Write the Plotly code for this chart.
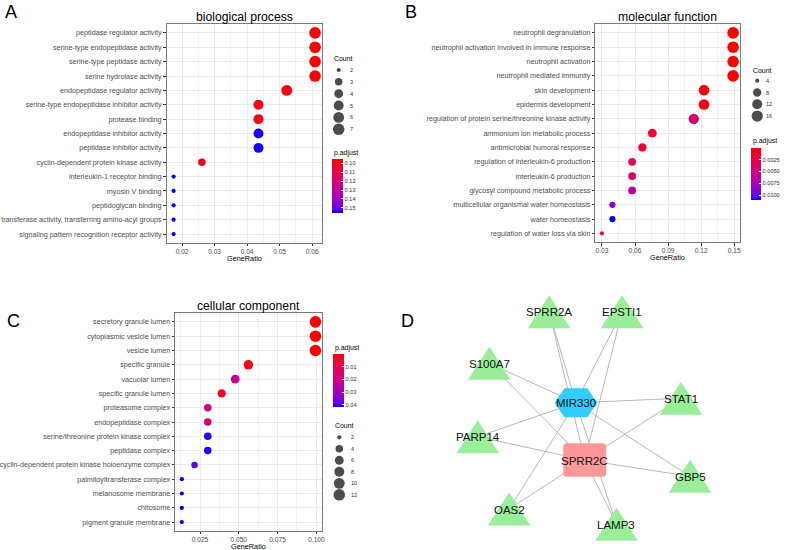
import math
import plotly.graph_objects as go

W, H = 785, 550
FONT = "Liberation Sans, Arial, sans-serif"

# ---------------- data: panel A ----------------
a_title = "biological process"
a_terms = [
    "peptidase regulator activity",
    "serine-type endopeptidase activity",
    "serine-type peptidase activity",
    "serine hydrolase activity",
    "endopeptidase regulator activity",
    "serine-type endopeptidase inhibitor activity",
    "protease binding",
    "endopeptidase inhibitor activity",
    "peptidase inhibitor activity",
    "cyclin-dependent protein kinase activity",
    "interleukin-1 receptor binding",
    "myosin V binding",
    "peptidoglycan binding",
    "transferase activity, transferring amino-acyl groups",
    "signaling pattern recognition receptor activity",
]
a_ratio = [0.0609, 0.0609, 0.0609, 0.0609, 0.0522, 0.0435, 0.0435, 0.0435, 0.0435,
           0.0261, 0.0174, 0.0174, 0.0174, 0.0174, 0.0174]
a_count = [7, 7, 7, 7, 6, 5, 5, 5, 5, 3, 2, 2, 2, 2, 2]
a_padj = [0.0955, 0.0957, 0.0958, 0.0960, 0.0985, 0.0990, 0.0992, 0.1545, 0.1545,
          0.0995, 0.1556, 0.1556, 0.1556, 0.1556, 0.1556]
a_count_breaks = [2, 3, 4, 5, 6, 7]
a_padj_ticks = [0.10, 0.11, 0.12, 0.13, 0.14, 0.15]
a_padj_labels = ["0.10", "0.11", "0.12", "0.13", "0.14", "0.15"]
a_xticks = [0.02, 0.03, 0.04, 0.05, 0.06]
a_xlabels = ["0.02", "0.03", "0.04", "0.05", "0.06"]

# ---------------- data: panel B ----------------
b_title = "molecular function"
b_terms = [
    "neutrophil degranulation",
    "neutrophil activation involved in immune response",
    "neutrophil activation",
    "neutrophil mediated immunity",
    "skin development",
    "epidermis development",
    "regulation of protein serine/threonine kinase activity",
    "ammonium ion metabolic process",
    "antimicrobial humoral response",
    "regulation of interleukin-6 production",
    "interleukin-6 production",
    "glycosyl compound metabolic process",
    "multicellular organismal water homeostasis",
    "water homeostasis",
    "regulation of water loss via skin",
]
b_ratio = [0.149, 0.149, 0.149, 0.149, 0.1226, 0.1226, 0.1133, 0.0757, 0.0667,
           0.0574, 0.0574, 0.0574, 0.0395, 0.0395, 0.0300]
b_count = [17, 17, 17, 17, 14, 14, 13, 9, 8, 7, 7, 7, 5, 5, 4]
b_padj = [0.00002, 0.00002, 0.00002, 0.00002, 0.0004, 0.0004, 0.0044, 0.0015, 0.0011,
          0.0033, 0.0033, 0.0063, 0.0086, 0.0109, 0.0022]
b_count_breaks = [4, 8, 12, 16]
b_padj_ticks = [0.0025, 0.0050, 0.0075, 0.0100]
b_padj_labels = ["0.0025", "0.0050", "0.0075", "0.0100"]
b_xticks = [0.03, 0.06, 0.09, 0.12, 0.15]
b_xlabels = ["0.03", "0.06", "0.09", "0.12", "0.15"]

# ---------------- data: panel C ----------------
c_title = "cellular component"
c_terms = [
    "secretory granule lumen",
    "cytoplasmic vesicle lumen",
    "vesicle lumen",
    "specific granule",
    "vacuolar lumen",
    "specific granule lumen",
    "proteasome complex",
    "endopeptidase complex",
    "serine/threonine protein kinase complex",
    "peptidase complex",
    "cyclin-dependent protein kinase holoenzyme complex",
    "palmitoyltransferase complex",
    "melanosome membrane",
    "chitosome",
    "pigment granule membrane",
]
c_ratio = [0.0994, 0.0994, 0.0994, 0.0562, 0.0477, 0.0390, 0.0300, 0.0300, 0.0300,
           0.0300, 0.0215, 0.0133, 0.0133, 0.0133, 0.0133]
c_count = [12, 12, 12, 7, 6, 5, 4, 4, 4, 4, 3, 2, 2, 2, 2]
c_padj = [0.0002, 0.0002, 0.0002, 0.0025, 0.0225, 0.0040, 0.0185, 0.0185, 0.0405,
          0.0405, 0.0385, 0.0416, 0.0416, 0.0416, 0.0416]
c_count_breaks = [2, 4, 6, 8, 10, 12]
c_padj_ticks = [0.01, 0.02, 0.03, 0.04]
c_padj_labels = ["0.01", "0.02", "0.03", "0.04"]
c_xticks = [0.025, 0.050, 0.075, 0.100]
c_xlabels = ["0.025", "0.050", "0.075", "0.100"]

# ---------------- data: panel D (network) ----------------
net_genes = ["SPRR2A", "EPSTI1", "S100A7", "STAT1", "PARP14", "GBP5", "OAS2", "LAMP3"]
net_gene_x = [550.0, 623.7, 489.7, 683.0, 478.0, 692.2, 509.7, 618.0]
net_gene_y = [311.7, 311.7, 363.3, 398.3, 436.7, 476.3, 509.0, 524.3]
net_mirna = "MIR330"
net_mirna_xy = (577.0, 402.8)
net_hub = "SPRR2C"
net_hub_xy = (586.0, 460.0)

# ---------------- styling helpers ----------------
def px_x(p):
    return p / W

def px_y(p):
    return 1 - p / H

# Lab-interpolated red -> blue (ggplot scale_color_gradient(low="red", high="blue"))
LAB_STOPS = [(0.0, (255, 0, 0)), (0.125, (244, 0, 49)), (0.25, (232, 0, 80)),
             (0.375, (218, 0, 108)), (0.5, (202, 0, 137)), (0.625, (181, 0, 165)),
             (0.75, (154, 0, 195)), (0.875, (115, 0, 224)), (0.9375, (84, 0, 240)),
             (1.0, (0, 0, 255))]
# colour values are -p.adjust so that the smallest p (red) sits on top of the bar
CSCALE = sorted([[1 - t, "rgb(%d,%d,%d)" % c] for t, c in LAB_STOPS], key=lambda s: s[0])


def size_scale(counts, values, dmin=4.2, dmax=11.6):
    lo, hi = min(counts), max(counts)
    return [dmin + (dmax - dmin) * math.sqrt((v - lo) / (hi - lo)) for v in values]


fig = go.Figure()

panels = [
    dict(n=1, title=a_title, terms=a_terms, ratio=a_ratio, count=a_count, padj=a_padj,
         breaks=a_count_breaks, pt=a_padj_ticks, pl=a_padj_labels, xt=a_xticks, xl=a_xlabels,
         box=(164, 321, 24.3, 242.7), minor=0.005,
         leg=dict(tx=331, ty=58, kx=337.7, ky=70, step=11.86, lx=347.5),
         cb=dict(tx=331, ty=153.3, x=331, y=159, len=53.7, th=10.7)),
    dict(n=2, title=b_title, terms=b_terms, ratio=b_ratio, count=b_count, padj=b_padj,
         breaks=b_count_breaks, pt=b_padj_ticks, pl=b_padj_labels, xt=b_xticks, xl=b_xlabels,
         box=(596.7, 742.3, 24.3, 242.0), minor=0.015,
         leg=dict(tx=753.3, ty=70.7, kx=760, ky=80.7, step=11.8, lx=766.5),
         cb=dict(tx=753.3, ty=141.3, x=753.3, y=147.7, len=52.3, th=10)),
    dict(n=3, title=c_title, terms=c_terms, ratio=c_ratio, count=c_count, padj=c_padj,
         breaks=c_count_breaks, pt=c_padj_ticks, pl=c_padj_labels, xt=c_xticks, xl=c_xlabels,
         box=(172.7, 321, 313.3, 530.7), minor=0.0125,
         leg=dict(tx=331.7, ty=425, kx=338.3, ky=437.3, step=11.5, lx=348),
         cb=dict(tx=331.7, ty=347.7, x=331.7, y=354, len=53.3, th=10.6)),
]

annotations = []
layout_axes = {}

for p in panels:
    n = p["n"]
    sfx = "" if n == 1 else str(n)
    x0, x1, y0, y1 = p["box"]
    lo, hi = min(p["ratio"]), max(p["ratio"])
    pad = 0.05 * (hi - lo)
    nt = len(p["terms"])
    fig.add_trace(go.Scatter(
        x=p["ratio"], y=p["terms"], mode="markers",
        xaxis="x" + sfx, yaxis="y" + sfx,
        marker=dict(size=size_scale(p["count"], p["count"]),
                    color=[-v for v in p["padj"]],
                    coloraxis="coloraxis" + sfx, line=dict(width=0), opacity=1),
        showlegend=False, hoverinfo="skip"))
    layout_axes["xaxis" + sfx] = dict(
        domain=[px_x(x0), px_x(x1)], anchor="y" + sfx,
        range=[lo - pad, hi + pad], tickvals=p["xt"], ticktext=p["xl"],
        showline=True, mirror=True, linecolor="#7A7A7A", linewidth=1,
        showgrid=True, gridcolor="#EBEBEB", gridwidth=0.8,
        minor=dict(showgrid=True, gridcolor="#F3F3F3", gridwidth=0.5,
                   tick0=0, dtick=p["minor"]),
        ticks="outside", ticklen=2.5, tickwidth=0.7, tickcolor="#333333",
        tickfont=dict(family=FONT, size=6.6, color="#4D4D4D"),
        zeroline=False, fixedrange=True)
    layout_axes["yaxis" + sfx] = dict(
        domain=[px_y(y1), px_y(y0)], anchor="x" + sfx,
        type="category", categoryorder="array", categoryarray=p["terms"],
        range=[nt - 1 + 0.6, -0.6],
        showline=True, mirror=True, linecolor="#7A7A7A", linewidth=1,
        showgrid=True, gridcolor="#EBEBEB", gridwidth=0.8,
        ticks="outside", ticklen=2.5, tickwidth=0.7, tickcolor="#333333",
        tickfont=dict(family=FONT, size=7.2, color="#4D4D4D"),
        zeroline=False, fixedrange=True)
    cb = p["cb"]
    layout_axes["coloraxis" + sfx] = dict(
        colorscale=CSCALE,
        colorbar=dict(x=px_x(cb["x"]), xanchor="left", xpad=0,
                      y=px_y(cb["y"]), yanchor="top", ypad=0,
                      len=cb["len"], lenmode="pixels",
                      thickness=cb["th"], thicknessmode="pixels",
                      outlinewidth=0,
                      tickvals=[-v for v in p["pt"]], ticktext=p["pl"],
                      ticks="inside", ticklen=2, tickwidth=0.8, tickcolor="white",
                      tickfont=dict(family=FONT, size=5.6, color="#333333")))
    annotations.append(dict(x=(x0 + x1) / 2, y=y0 - 7.5, xref="x4", yref="y4",
                            text=p["title"], showarrow=False,
                            font=dict(family=FONT, size=12.2, color="#000000")))
    annotations.append(dict(x=(x0 + x1) / 2, y=y1 + 15.6, xref="x4", yref="y4",
                            text="GeneRatio", showarrow=False,
                            font=dict(family=FONT, size=7.3, color="#000000")))
    annotations.append(dict(x=cb["tx"], y=cb["ty"], xref="x4", yref="y4", xanchor="left",
                            text="p.adjust", showarrow=False,
                            font=dict(family=FONT, size=6.9, color="#000000")))
    lg = p["leg"]
    annotations.append(dict(x=lg["tx"], y=lg["ty"], xref="x4", yref="y4", xanchor="left",
                            text="Count", showarrow=False,
                            font=dict(family=FONT, size=6.9, color="#000000")))
    kys = [lg["ky"] + i * lg["step"] for i in range(len(p["breaks"]))]
    fig.add_trace(go.Scatter(
        x=[lg["kx"]] * len(p["breaks"]), y=kys, mode="markers",
        xaxis="x4", yaxis="y4",
        marker=dict(size=size_scale(p["count"], p["breaks"]), color="black",
                    line=dict(width=0)),
        showlegend=False, hoverinfo="skip"))
    for b, ky in zip(p["breaks"], kys):
        annotations.append(dict(x=lg["lx"], y=ky, xref="x4", yref="y4", xanchor="left",
                                text=str(b), showarrow=False,
                                font=dict(family=FONT, size=5.6, color="#333333")))

# ---------------- panel D: network ----------------
ex, ey = [], []
for gx, gy in zip(net_gene_x, net_gene_y):
    for hx, hy in (net_mirna_xy, net_hub_xy):
        ex += [gx, hx, None]
        ey += [gy, hy, None]
fig.add_trace(go.Scatter(x=ex, y=ey, mode="lines", xaxis="x4", yaxis="y4",
                         line=dict(color="#A6A6A6", width=0.8),
                         showlegend=False, hoverinfo="skip"))

shapes = []
TW, TH = 43.0, 33.0
for gx, gy in zip(net_gene_x, net_gene_y):
    path = "M %.2f %.2f L %.2f %.2f L %.2f %.2f Z" % (
        gx - TW / 2, gy + TH / 2, gx + TW / 2, gy + TH / 2, gx, gy - TH / 2)
    shapes.append(dict(type="path", path=path, xref="x4", yref="y4",
                       fillcolor="#9AEE9A", line=dict(width=0), layer="above"))
mx, my = net_mirna_xy
HW, HH, HT = 21.5, 14.5, 11.5
hexpath = "M %.2f %.2f L %.2f %.2f L %.2f %.2f L %.2f %.2f L %.2f %.2f L %.2f %.2f Z" % (
    mx - HW, my, mx - HT, my - HH, mx + HT, my - HH, mx + HW, my, mx + HT, my + HH, mx - HT, my + HH)
shapes.append(dict(type="path", path=hexpath, xref="x4", yref="y4",
                   fillcolor="#33CCFF", line=dict(width=0), layer="above"))
sx, sy = net_hub_xy
RW, RH, R = 21.7, 16.7, 3.5
l, r_, t, b = sx - RW, sx + RW, sy - RH, sy + RH
rpath = ("M %.2f %.2f L %.2f %.2f Q %.2f %.2f %.2f %.2f L %.2f %.2f Q %.2f %.2f %.2f %.2f "
         "L %.2f %.2f Q %.2f %.2f %.2f %.2f L %.2f %.2f Q %.2f %.2f %.2f %.2f Z") % (
    l + R, t, r_ - R, t, r_, t, r_, t + R, r_, b - R, r_, b, r_ - R, b,
    l + R, b, l, b, l, b - R, l, t + R, l, t, l + R, t)
shapes.append(dict(type="path", path=rpath, xref="x4", yref="y4",
                   fillcolor="#FF9999", line=dict(width=0), layer="above"))

for name, gx, gy in zip(net_genes + [net_mirna, net_hub],
                        net_gene_x + [mx, sx], net_gene_y + [my, sy]):
    annotations.append(dict(x=gx, y=gy + 0.5, xref="x4", yref="y4", text=name,
                            showarrow=False,
                            font=dict(family=FONT, size=11.5, color="#111111")))

for letter, lx, ly in (("A", 7, 1.0), ("B", 411, 1.0), ("C", 9.2, 309.5), ("D", 406.7, 310)):
    annotations.append(dict(x=lx, y=ly, xref="x4", yref="y4", yanchor="top", text=letter,
                            showarrow=False, borderpad=0,
                            font=dict(family=FONT, size=18, color="#000000")))

layout_axes["xaxis4"] = dict(domain=[0, 1], range=[0, W], visible=False, fixedrange=True,
                             anchor="y4")
layout_axes["yaxis4"] = dict(domain=[0, 1], range=[H, 0], visible=False, fixedrange=True,
                             anchor="x4")

fig.update_layout(
    width=W, height=H, margin=dict(l=0, r=0, t=0, b=0),
    paper_bgcolor="white", plot_bgcolor="rgba(0,0,0,0)",
    font=dict(family=FONT),
    annotations=annotations, shapes=shapes, showlegend=False,
    **layout_axes)

fig.write_html("out.html", config={"displayModeBar": False},
               post_script="document.body.style.margin='0';document.body.style.overflow='hidden';")
